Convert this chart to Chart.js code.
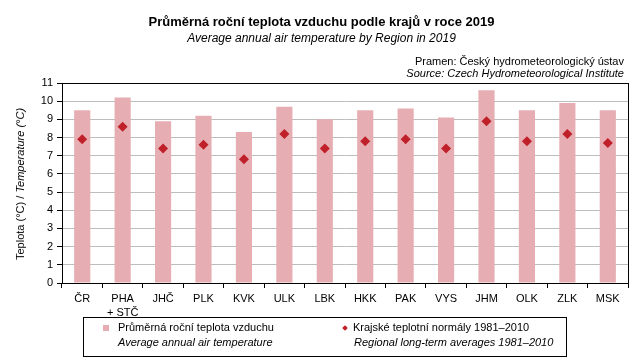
<!DOCTYPE html>
<html><head><meta charset="utf-8">
<script src="https://cdn.jsdelivr.net/npm/chart.js@4.4.1/dist/chart.umd.min.js"></script>
<style>
html,body{margin:0;padding:0;background:#fff;}
#wrap{position:relative;width:643px;height:359px;font-family:"Liberation Sans",Arial,sans-serif;color:#000;overflow:hidden;}
#c{position:absolute;left:0;top:0;}
.t{position:absolute;white-space:nowrap;}
</style></head>
<body>
<div id="wrap">
<canvas id="c" width="643" height="359"></canvas>
<div class="t" style="left:0;width:643px;text-align:center;top:14px;font-weight:bold;font-size:13px;">Průměrná roční teplota vzduchu podle krajů v roce 2019</div>
<div class="t" style="left:0;width:643px;text-align:center;top:31px;font-style:italic;font-size:12px;">Average annual air temperature by Region in 2019</div>
<div class="t" style="right:19px;top:55px;font-size:11px;text-align:right;">Pramen: Český hydrometeorologický ústav</div>
<div class="t" style="right:19px;top:67px;font-size:11px;font-style:italic;text-align:right;">Source: Czech Hydrometeorological Institute</div>
<div class="t" style="left:20px;top:184px;font-size:11px;transform:translate(-50%,-50%) rotate(-90deg);">Teplota (°C) / <i>Temperature (°C)</i></div>
<div style="position:absolute;left:83px;top:317px;width:482px;height:38px;border:1px solid #000;"></div>
<div style="position:absolute;left:103px;top:325px;width:6px;height:6px;background:#E6AEB2;"></div>
<div class="t" style="left:118px;top:321px;font-size:11px;">Průměrná roční teplota vzduchu</div>
<div class="t" style="left:118px;top:336px;font-size:11px;font-style:italic;">Average annual air temperature</div>
<div style="position:absolute;left:343px;top:326px;width:4px;height:4px;background:#C0202A;transform:rotate(45deg);"></div>
<div class="t" style="left:353px;top:321px;font-size:11px;">Krajské teplotní normály 1981–2010</div>
<div class="t" style="left:354px;top:336px;font-size:11px;font-style:italic;">Regional long-term averages 1981–2010</div>
</div>
<script>
const categories = ['ČR', ['PHA', '+ STČ'], 'JHČ', 'PLK', 'KVK', 'ULK', 'LBK', 'HKK', 'PAK', 'VYS', 'JHM', 'OLK', 'ZLK', 'MSK'];
const avgTemp2019 = [9.5, 10.2, 8.9, 9.2, 8.3, 9.7, 9.0, 9.5, 9.6, 9.1, 10.6, 9.5, 9.9, 9.5];
const normals19812010 = [7.9, 8.6, 7.4, 7.6, 6.8, 8.2, 7.4, 7.8, 7.9, 7.4, 8.9, 7.8, 8.2, 7.7];
const yTicks = [0,1,2,3,4,5,6,7,8,9,10,11];

const frame = {
  id: 'frame',
  afterDraw(chart) {
    const a = chart.chartArea, ctx = chart.ctx;
    ctx.save();
    ctx.strokeStyle = '#000';
    ctx.lineWidth = 1;
    ctx.strokeRect(Math.round(a.left) + 0.5, Math.round(a.top) + 0.5, Math.round(a.right - a.left), Math.round(a.bottom - a.top));
    ctx.restore();
  }
};

new Chart(document.getElementById('c'), {
  data: {
    labels: categories,
    datasets: [
      { type: 'line', label: 'Krajské teplotní normály 1981–2010', data: normals19812010,
        showLine: false, pointStyle: 'rectRot', pointRadius: 5, pointBackgroundColor: '#C0202A',
        pointBorderColor: '#C0202A', pointBorderWidth: 0, order: 0 },
      { type: 'bar', label: 'Průměrná roční teplota vzduchu', data: avgTemp2019,
        backgroundColor: '#E6AEB2', categoryPercentage: 1, barPercentage: 0.4, order: 1 }
    ]
  },
  options: {
    responsive: false,
    animation: false,
    layout: { padding: { left: 0, right: 15, top: 83, bottom: 36 } },
    plugins: { legend: { display: false }, tooltip: { enabled: false }, title: { display: false } },
    scales: {
      x: {
        offset: true,
        grid: { display: true, offset: true, drawOnChartArea: false, drawTicks: true, tickLength: 5, tickColor: '#000' },
        border: { display: true, color: '#000' },
        ticks: { color: '#000', font: { family: 'Liberation Sans, Arial', size: 11, lineHeight: 1.25 }, padding: 4, maxRotation: 0, autoSkip: false },
        afterFit(s) { s.height = 40; }
      },
      y: {
        min: 0, max: 11,
        afterBuildTicks(s) { s.ticks = yTicks.map(v => ({ value: v })); },
        grid: { color: '#BDBDBD', drawTicks: true, tickLength: 5, tickColor: '#000' },
        border: { display: true, color: '#000' },
        ticks: { color: '#000', font: { family: 'Liberation Sans, Arial', size: 11 }, padding: 4 },
        afterFit(s) { s.width = 62; }
      }
    }
  },
  plugins: [frame]
});
</script>
</body></html>
